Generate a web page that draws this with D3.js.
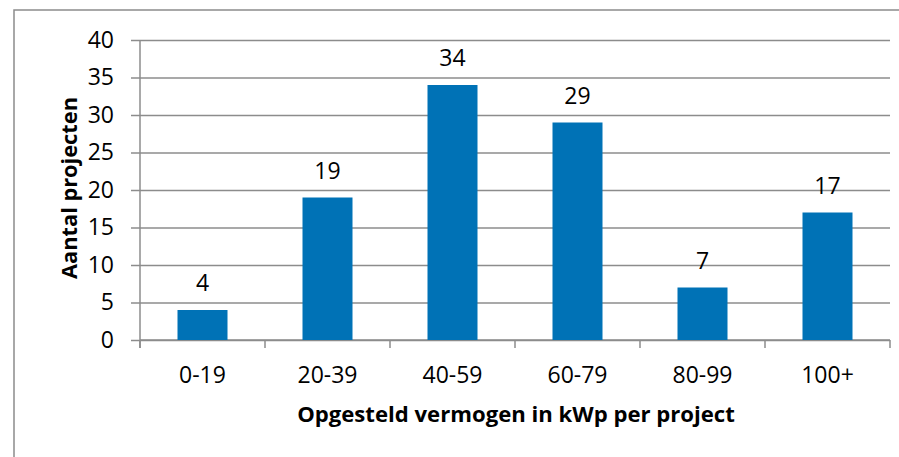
<!DOCTYPE html>
<html>
<head>
<meta charset="utf-8">
<script src="https://cdn.jsdelivr.net/npm/d3@7"></script>
<style>
  body { margin: 0; background: #fff; }
  svg { display: block; font-family: "Open Sans", sans-serif; }
</style>
</head>
<body>
<svg id="chart" width="899" height="457"></svg>
<script>
// data
var categories = ["0-19", "20-39", "40-59", "60-79", "80-99", "100+"];
var counts = [4, 19, 34, 29, 7, 17];
var yTicks = [0, 5, 10, 15, 20, 25, 30, 35, 40];

var svg = d3.select("#chart");
var plot = { left: 140, right: 890, top: 40, bottom: 340 };
var gridColor = "#8c8c8c";
var fontSize = 23;

// shrink/grow a bold title so it spans about the same width as the source
function fitWidth(sel, target) {
    var w = sel.node().getComputedTextLength();
    var fs = parseFloat(sel.attr("font-size"));
    sel.attr("font-size", (fs * target / w).toFixed(2));
}

// outer frame (cut off at right/bottom like the source)
svg.append("rect")
    .attr("x", 14).attr("y", 10)
    .attr("width", 900).attr("height", 460)
    .attr("fill", "none")
    .attr("stroke", gridColor)
    .attr("stroke-width", 1.5);

var x = d3.scaleBand()
    .domain(categories)
    .range([plot.left, plot.right])
    .paddingInner(0.6)
    .paddingOuter(0.3);

var y = d3.scaleLinear()
    .domain([0, 40])
    .range([plot.bottom, plot.top]);

// gridlines + y axis
var yAxis = d3.axisLeft(y)
    .tickValues(yTicks)
    .tickSize(-(plot.right - plot.left))
    .tickPadding(26);

var gy = svg.append("g")
    .attr("transform", "translate(" + plot.left + ",0)")
    .call(yAxis);
gy.select(".domain").remove();
gy.selectAll(".tick line")
    .attr("x1", -9)
    .attr("stroke", gridColor)
    .attr("stroke-width", 1.5);
gy.selectAll(".tick text")
    .attr("font-size", fontSize)
    .attr("fill", "#000")
    .attr("font-family", "'Open Sans', sans-serif");

// y axis line
svg.append("line")
    .attr("x1", plot.left).attr("x2", plot.left)
    .attr("y1", plot.top).attr("y2", plot.bottom + 8)
    .attr("stroke", gridColor).attr("stroke-width", 1.5);

// x axis line + ticks at band boundaries
svg.append("line")
    .attr("x1", plot.left).attr("x2", plot.right)
    .attr("y1", plot.bottom).attr("y2", plot.bottom)
    .attr("stroke", gridColor).attr("stroke-width", 1.5);

var bounds = d3.range(categories.length + 1).map(function (i) {
    return plot.left + i * (plot.right - plot.left) / categories.length;
});
svg.append("g").selectAll("line")
    .data(bounds)
    .enter().append("line")
    .attr("x1", function (d) { return d; })
    .attr("x2", function (d) { return d; })
    .attr("y1", plot.bottom)
    .attr("y2", plot.bottom + 8)
    .attr("stroke", gridColor).attr("stroke-width", 1.5);

// bars
svg.append("g").selectAll("rect")
    .data(counts)
    .enter().append("rect")
    .attr("x", function (d, i) { return x(categories[i]); })
    .attr("y", function (d) { return y(d); })
    .attr("width", x.bandwidth())
    .attr("height", function (d) { return y(0) - y(d); })
    .attr("fill", "#0072b6");

// value labels
svg.append("g").selectAll("text")
    .data(counts)
    .enter().append("text")
    .attr("x", function (d, i) { return x(categories[i]) + x.bandwidth() / 2; })
    .attr("y", function (d) { return y(d) - 19; })
    .attr("text-anchor", "middle")
    .attr("font-size", fontSize)
    .text(function (d) { return d; });

// category labels
svg.append("g").selectAll("text")
    .data(categories)
    .enter().append("text")
    .attr("x", function (d) { return x(d) + x.bandwidth() / 2; })
    .attr("y", 383)
    .attr("text-anchor", "middle")
    .attr("font-size", fontSize)
    .text(function (d) { return d; });

// axis titles
var xTitle = svg.append("text")
    .attr("x", 516)
    .attr("y", 422)
    .attr("text-anchor", "middle")
    .attr("font-size", 21)
    .attr("font-weight", "bold")
    .text("Opgesteld vermogen in kWp per project");
fitWidth(xTitle, 438);

var yTitle = svg.append("text")
    .attr("transform", "translate(77,188) rotate(-90)")
    .attr("text-anchor", "middle")
    .attr("font-size", 21)
    .attr("font-weight", "bold")
    .text("Aantal projecten");
fitWidth(yTitle, 182);
</script>
</body>
</html>
